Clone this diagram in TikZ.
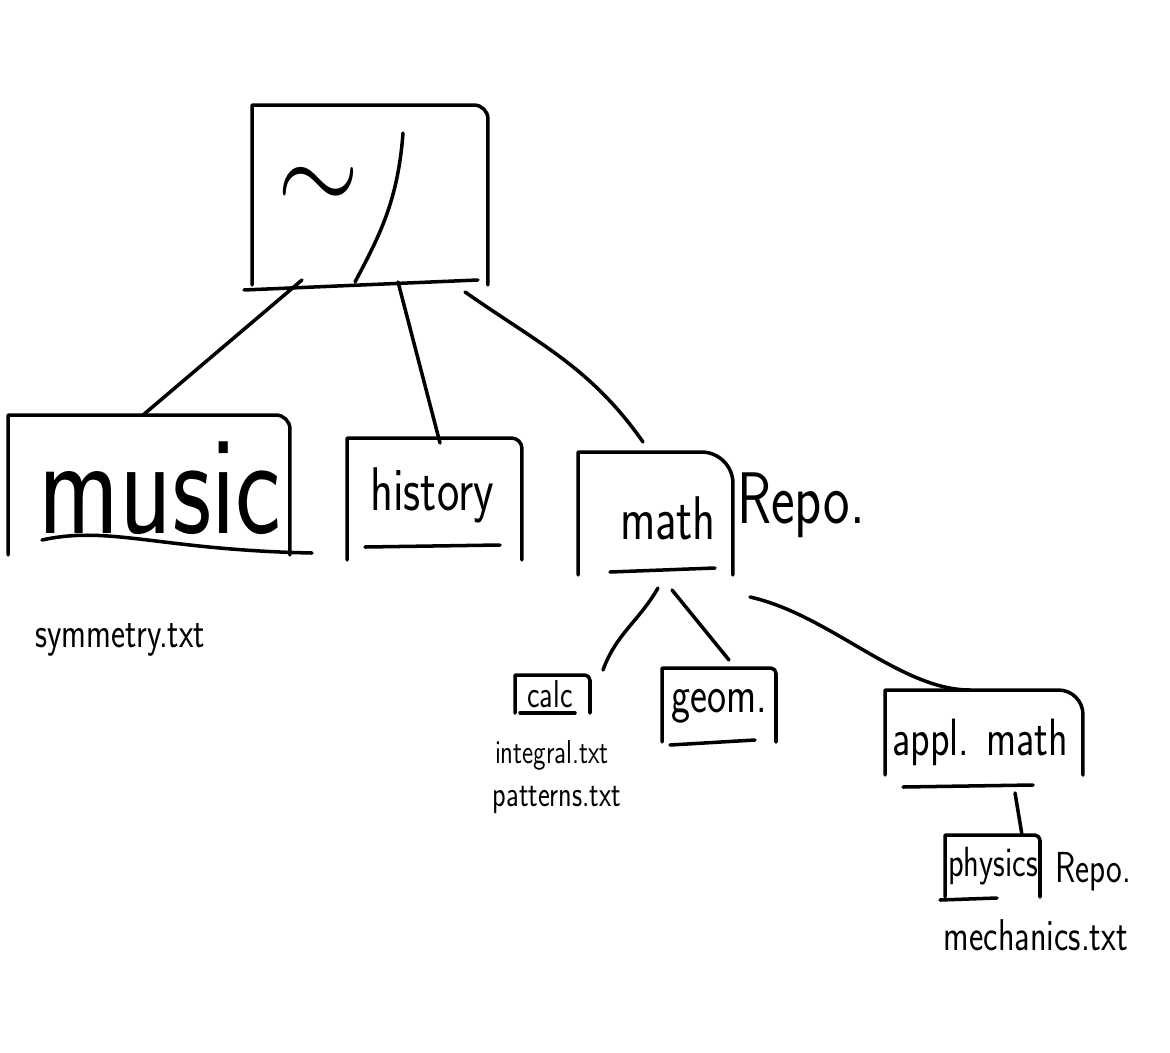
\documentclass[tikz,border=0pt]{standalone}
\usepackage{graphicx}
\usetikzlibrary{calc}
\newcommand{\hw}[2]{\fontsize{#1}{#1}\selectfont\scalebox{1}[1.3]{#2}}
\newcommand{\folder}[2]{\draw (#1.south west) -- (#1.north west) -- ([xshift=-#2]#1.north east) to[out=0,in=90] ([yshift=-#2]#1.north east) -- (#1.south east);}
\begin{document}
\begin{tikzpicture}[x=0.02cm,y=-0.02cm,line width=2pt,line cap=round,line join=round,
  folder/.style={inner sep=0pt,outer sep=0pt},
  lbl/.style={inner sep=0pt,font=\sffamily},
  link/.style={line width=2pt}]
\useasboundingbox (0,0) rectangle (1170,1052);
\fill[white] (0,0) rectangle (1170,1052);

% root
\node[folder,minimum width=4.72cm,minimum height=3.6cm] (root) at (370,195) {};
\folder{root}{8pt}
\draw ($(root.south west)+(-8,5)$) -- ($(root.south east)+(-10,-5)$);
\node[lbl] (tilde) at (318,190) {\scalebox{6}[7]{$\sim$}};
\draw (403,133) .. controls (398,200) and (380,235) .. (355,282);

% music
\node[folder,minimum width=5.64cm,minimum height=2.8cm] (music) at (149,485) {};
\folder{music}{8pt}
\draw (42,540) .. controls (110,525) and (160,550) .. (312,553);
\node[lbl] (musict) at (160,488) {\hw{62}{music}};

% history
\node[folder,minimum width=3.5cm,minimum height=2.44cm] (history) at (434.5,499) {};
\folder{history}{6pt}
\draw (365,547) -- (500,545);
\node[lbl] (historyt) at (432,495) {\hw{27}{history}};

% math
\node[folder,minimum width=3.1cm,minimum height=2.46cm] (math) at (655.5,513.5) {};
\folder{math}{18pt}
\draw (610,572) -- (715,568);
\node[lbl] (matht) at (668,518) {\hw{27}{math}};
\node[lbl] (repo1) at (801,505) {\hw{32}{Repo.}};

\node[lbl] (symm) at (120,640) {\hw{19}{symmetry.txt}};

% calc
\node[folder,minimum width=1.5cm,minimum height=0.76cm] (calc) at (552.5,694) {};
\folder{calc}{3pt}
\draw ($(calc.south west)+(5,0)$) -- ($(calc.south east)+(-15,0)$);
\node[lbl] (calct) at (550,694) {\hw{17}{calc}};
\node[lbl] (integral) at (552,755) {\hw{14.5}{integral.txt}};
\node[lbl] (patterns) at (557,800) {\hw{16}{patterns.txt}};

% geom
\node[folder,minimum width=2.28cm,minimum height=1.48cm] (geom) at (719,705) {};
\folder{geom}{3pt}
\draw (670,745) -- (755,740);
\node[lbl] (geomt) at (719,706) {\hw{23}{geom.}};

% appl. math
\node[folder,minimum width=3.96cm,minimum height=1.7cm] (appl) at (984,732.5) {};
\folder{appl}{14pt}
\draw (903,787) -- (1033,785);
\node[lbl] (applt) at (980,742) {\hw{23}{appl. math}};

% physics
\node[folder,minimum width=1.9cm,minimum height=1.24cm] (physics) at (992.5,866) {};
\folder{physics}{3pt}
\draw (940,900) -- (997,898);
\node[lbl] (physicst) at (993,866) {\hw{18.5}{physics}};
\node[lbl] (repo2) at (1093,872) {\hw{19}{Repo.}};
\node[lbl] (mech) at (1036,935) {\hw{19.5}{mechanics.txt}};

% connectors
\draw[link] ($(root.south west)+(50,-5)$) -- ($(music.north west)+(135,0)$);
\draw[link] ($(root.south west)+(146,-3)$) -- ($(history.north west)+(93,5)$);
\draw[link] ($(root.south west)+(213,7)$) to[out=-35,in=125] ($(math.north west)+(65,-10)$);
\draw[link] ($(math.south west)+(80,13)$) to[out=-120,in=70] ($(calc.north east)+(13,-5)$);
\draw[link] ($(math.south west)+(94,15)$) -- ($(geom.north west)+(67,-8)$);
\draw[link] ($(math.south east)+(17,22)$) .. controls (830,615) and (900,690) .. ($(appl.north west)+(85,0)$);
\draw[link] ($(appl.south west)+(130,18)$) -- ($(physics.north west)+(77,0)$);
\end{tikzpicture}
\end{document}
